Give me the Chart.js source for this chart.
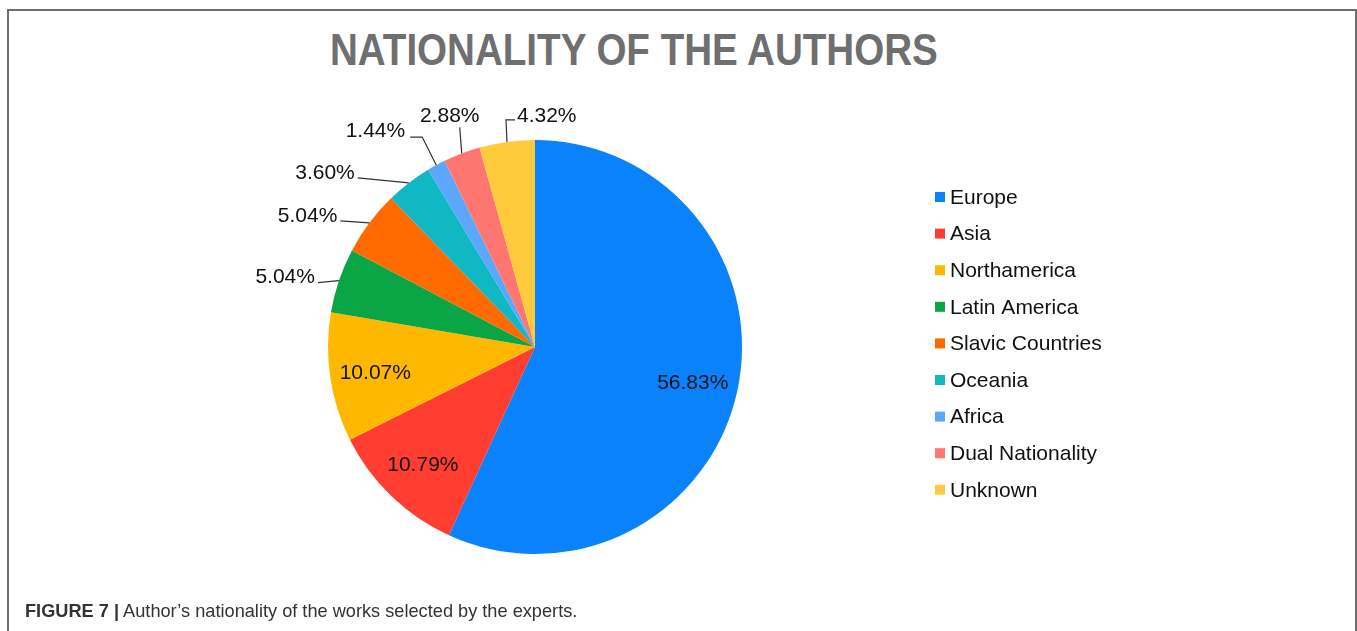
<!DOCTYPE html>
<html>
<head>
<meta charset="utf-8">
<script src="https://cdn.jsdelivr.net/npm/chart.js@4/dist/chart.umd.min.js"></script>
<style>
  html, body { margin: 0; padding: 0; background: #fff; overflow: hidden; }
  #frame {
    position: absolute; left: 7px; top: 9px; width: 1346px; height: 700px;
    border: 2px solid #6e6e6e; border-bottom: none;
  }
  #title {
    position: absolute; left: 330px; top: 24px; margin: 0;
    font-family: "Liberation Sans", Arial, sans-serif;
    font-weight: bold; font-size: 45px; color: #6f6f6f; white-space: nowrap;
    transform: scaleX(0.857); transform-origin: left top;
  }
  #chart { position: absolute; left: 0; top: 0; }
  #caption {
    position: absolute; left: 25px; top: 601px;
    font-family: "Liberation Sans", Arial, sans-serif; font-size: 18.2px; color: #333;
    white-space: nowrap;
  }
  #caption b { font-weight: bold; }
</style>
</head>
<body>
<div id="frame"></div>
<h1 id="title">NATIONALITY OF THE AUTHORS</h1>
<canvas id="chart" width="1357" height="631"></canvas>
<div id="caption"><b>FIGURE 7 |</b> Author’s nationality of the works selected by the experts.</div>

<script>
// regions and their share of authors (%)
const regions = ['Europe', 'Asia', 'Northamerica', 'Latin America', 'Slavic Countries',
                 'Oceania', 'Africa', 'Dual Nationality', 'Unknown'];
const shares = [56.83, 10.79, 10.07, 5.04, 5.04, 3.60, 1.44, 2.88, 4.32];
const colors = ['#0a82fb', '#ff3d31', '#ffb800', '#0aa545', '#ff6a00',
                '#10b8c4', '#5aa7fb', '#ff7670', '#ffcb3d'];

// how each value label sits: inside the slice, or outside with a leader line
// (offsets are relative to the middle of the slice's outer edge)
const labelLayout = [
  { inside: true },
  { inside: true },
  { inside: true },
  { line: [[-21, 2]], text: [-24, 2], align: 'right' },
  { line: [[-29, -2]], text: [-32, -1], align: 'right' },
  { line: [[-51, -5]], text: [-54, -4], align: 'right' },
  { line: [[-14, -28], [-26, -28]], text: [-31, -28], align: 'right' },
  { line: [[-2, -26]], text: [-12, -31], align: 'center' },
  { line: [[-1, -22], [8, -22]], text: [10, -20], align: 'left' }
];

const valueLabels = {
  id: 'valueLabels',
  afterDatasetsDraw(chart) {
    const ctx = chart.ctx;
    const arcs = chart.getDatasetMeta(0).data;
    ctx.save();
    ctx.font = '21px "Liberation Sans", Arial, sans-serif';
    ctx.fillStyle = '#111';
    ctx.strokeStyle = '#333';
    ctx.lineWidth = 1.2;
    arcs.forEach((arc, i) => {
      const text = shares[i].toFixed(2) + '%';
      const mid = (arc.startAngle + arc.endAngle) / 2;
      const lay = labelLayout[i];
      if (lay.inside) {
        const r = arc.outerRadius * 0.78;
        ctx.textAlign = 'center';
        ctx.textBaseline = 'middle';
        ctx.fillText(text, arc.x + Math.cos(mid) * r, arc.y + Math.sin(mid) * r + 2);
        return;
      }
      const ax = arc.x + Math.cos(mid) * arc.outerRadius;
      const ay = arc.y + Math.sin(mid) * arc.outerRadius;
      ctx.beginPath();
      ctx.moveTo(ax, ay);
      lay.line.forEach(p => ctx.lineTo(ax + p[0], ay + p[1]));
      ctx.stroke();
      ctx.textAlign = lay.align;
      ctx.textBaseline = 'alphabetic';
      ctx.fillText(text, ax + lay.text[0], ay + lay.text[1]);
    });
    ctx.restore();
  }
};

// legend drawn as a plain column to the right of the pie
const sideLegend = {
  id: 'sideLegend',
  afterDraw(chart) {
    const ctx = chart.ctx;
    const x = 935, y0 = 197, step = 36.6;
    ctx.save();
    ctx.font = '21px "Liberation Sans", Arial, sans-serif';
    ctx.textAlign = 'left';
    ctx.textBaseline = 'middle';
    chart.data.labels.forEach((label, i) => {
      const y = y0 + i * step;
      ctx.fillStyle = chart.data.datasets[0].backgroundColor[i];
      ctx.fillRect(x, y - 5, 10, 10);
      ctx.fillStyle = '#111';
      ctx.fillText(label, x + 15, y + 1);
    });
    ctx.restore();
  }
};

new Chart(document.getElementById('chart'), {
  type: 'pie',
  data: {
    labels: regions,
    datasets: [{
      data: shares,
      backgroundColor: colors,
      borderWidth: 0
    }]
  },
  options: {
    responsive: false,
    animation: false,
    events: [],
    layout: { padding: { left: 328, top: 140, right: 615, bottom: 77 } },
    plugins: {
      legend: { display: false },
      tooltip: { enabled: false }
    }
  },
  plugins: [valueLabels, sideLegend]
});
</script>
</body>
</html>
